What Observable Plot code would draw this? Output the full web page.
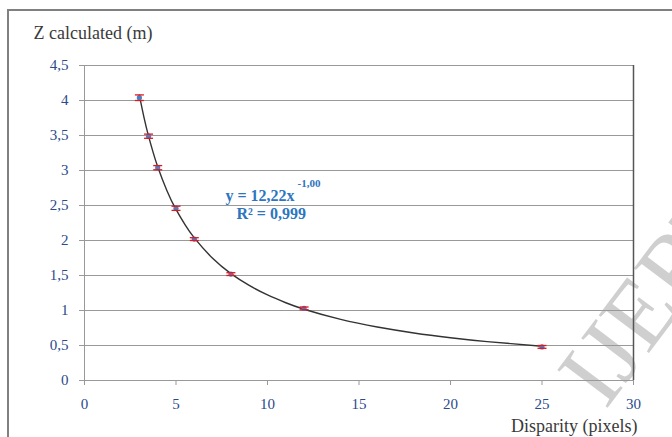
<!DOCTYPE html>
<html>
<head>
<meta charset="utf-8">
<script src="https://cdn.jsdelivr.net/npm/d3@7"></script>
<script src="https://cdn.jsdelivr.net/npm/@observablehq/plot@0.6"></script>
<style>
  html, body { margin: 0; padding: 0; background: #fff; }
  #wrap { position: relative; width: 672px; height: 437px; overflow: hidden; }
  #frame { position: absolute; left: 7px; top: 9px; width: 720px; height: 480px;
           border-left: 2px solid #808080; border-top: 2px solid #808080; pointer-events: none; }
  #wrap svg, #wrap svg text { font-family: "Liberation Serif", "Times New Roman", serif; }
</style>
</head>
<body>
<div id="wrap"><div id="frame"></div></div>
<script>
// Data
const disparity = [3, 3.5, 4, 5, 6, 8, 12, 25];
const zCalc     = [4.04, 3.49, 3.04, 2.46, 2.02, 1.52, 1.03, 0.48];
const zErr      = [0.04, 0.03, 0.03, 0.03, 0.02, 0.02, 0.02, 0.02];
const xTicks = [0, 5, 10, 15, 20, 25, 30];
const yTicks = [0, 0.5, 1, 1.5, 2, 2.5, 3, 3.5, 4, 4.5];
// Power trendline shown on the chart: y = 12,22 x^-1,00
const fitA = 12.22, fitB = -1.00;
const fitX = [3, 3.25, 3.5, 3.75, 4, 4.5, 5, 5.5, 6, 7, 8, 9, 10, 11, 12, 14, 16, 18, 20, 22, 25];

const pts = disparity.map((x, i) => ({x, y: zCalc[i], e: zErr[i]}));
const fit = fitX.map(x => ({x, y: fitA * Math.pow(x, fitB)}));
const fmt = d => String(d).replace(".", ",");

const capSymbol = { draw(ctx, size) { ctx.moveTo(-4.5, 0); ctx.lineTo(4.5, 0); } };

const serif = "'Liberation Serif', 'Times New Roman', serif";
const tickColor = "#2b4a8b";
const eqColor = "#2e75c0";

const chart = Plot.plot({
  width: 672,
  height: 437,
  marginLeft: 84,
  marginRight: 39,
  marginTop: 65,
  marginBottom: 57,
  style: { background: "#fff", fontFamily: serif, fontSize: "14px" },
  x: { domain: [0, 30], label: null },
  y: { domain: [0, 4.5], label: null },
  marks: [
    // Watermark (behind the chart lines)
    Plot.text(["IJERT"], { frameAnchor: "bottom-right", dx: -28, dy: 30, lineAnchor: "bottom", textAnchor: "start", rotate: -53, fill: "#cfcfcf", fontSize: 96, fontFamily: serif }),
    Plot.gridY(yTicks, { stroke: "#999", strokeOpacity: 1, strokeWidth: 1 }),
    Plot.ruleX([0], { stroke: "#999", strokeWidth: 1 }),
    Plot.ruleX([30], { stroke: "#555", strokeWidth: 1.5 }),
    Plot.axisY(yTicks, { tickFormat: fmt, tickSize: 5, tickPadding: 11, stroke: "#999", fill: tickColor, fontSize: 15, fontFamily: serif }),
    Plot.axisX(xTicks, { tickFormat: fmt, tickSize: 5, tickPadding: 13, stroke: "#999", fill: tickColor, fontSize: 15, fontFamily: serif }),
    Plot.line(fit, { x: "x", y: "y", stroke: "#333", strokeWidth: 1.4, curve: "natural" }),
    Plot.ruleX(pts, { x: "x", y1: d => d.y - d.e, y2: d => d.y + d.e, stroke: "#e8141b", strokeWidth: 1.2 }),
    Plot.dot(pts, { x: "x", y: "y", r: 2.6, fill: "#4a7fc1", stroke: "none" }),
    Plot.dot(pts, { x: "x", y: d => d.y - d.e, symbol: capSymbol, r: 3, stroke: "#e8141b", strokeWidth: 1.3, fill: "none" }),
    Plot.dot(pts, { x: "x", y: d => d.y + d.e, symbol: capSymbol, r: 3, stroke: "#e8141b", strokeWidth: 1.3, fill: "none" }),
    // Trendline equation
    Plot.text(["y = 12,22x"], { frameAnchor: "top-left", dx: 141, dy: 124, textAnchor: "start", fill: eqColor, fontWeight: "bold", fontSize: 16, fontFamily: serif }),
    Plot.text(["-1,00"], { frameAnchor: "top-left", dx: 213, dy: 114, textAnchor: "start", fill: eqColor, fontWeight: "bold", fontSize: 11, fontFamily: serif }),
    Plot.text(["R² = 0,999"], { frameAnchor: "top-left", dx: 152, dy: 142, textAnchor: "start", fill: eqColor, fontWeight: "bold", fontSize: 16, fontFamily: serif }),
    // Axis titles
    Plot.text(["Z calculated (m)"], { frameAnchor: "top-left", dx: -51, dy: -39, textAnchor: "start", fill: "#3a3a3a", fontSize: 18, fontFamily: serif }),
    Plot.text(["Disparity (pixels)"], { frameAnchor: "bottom-right", dx: 4, dy: 51, textAnchor: "end", fill: "#3a3a3a", fontSize: 18, fontFamily: serif })
  ]
});

const wrap = document.getElementById("wrap");
wrap.insertBefore(chart, wrap.firstChild);
</script>
</body>
</html>
